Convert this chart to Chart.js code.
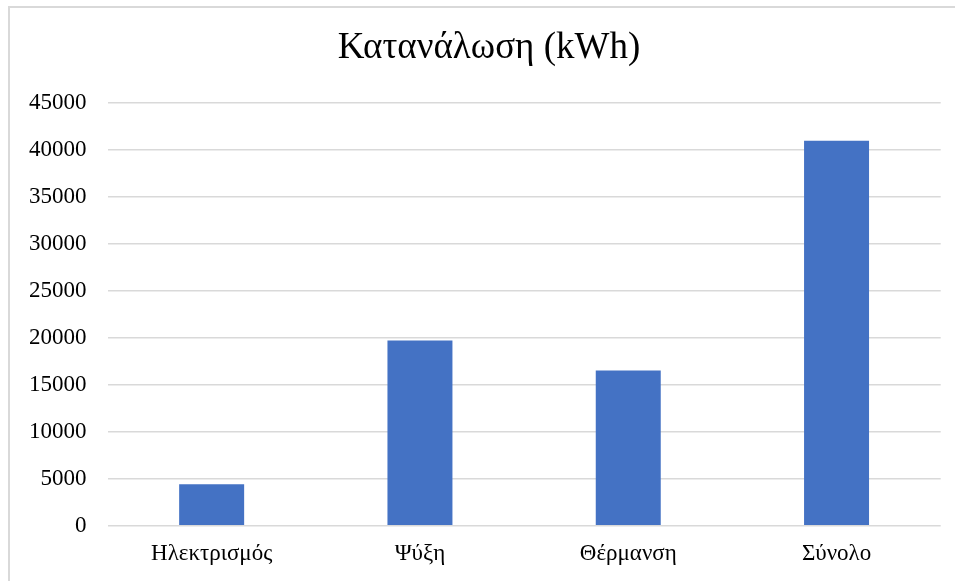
<!DOCTYPE html>
<html>
<head>
<meta charset="utf-8">
<script src="https://cdn.jsdelivr.net/npm/chart.js@4/dist/chart.umd.min.js"></script>
<style>
  html, body { margin: 0; padding: 0; background: #fff; }
  #wrap { position: relative; width: 955px; height: 581px; }
  #frame { position: absolute; left: 8px; top: 6px; width: 960px; height: 600px;
           border-left: 2px solid #d9d9d9; border-top: 2px solid #d9d9d9; box-sizing: border-box; }
  #chart { position: absolute; left: 0; top: 0; }
</style>
</head>
<body>
<div id="wrap">
  <div id="frame"></div>
  <canvas id="chart" width="955" height="581"></canvas>
</div>
<script>
const categories = ["Ηλεκτρισμός", "Ψύξη", "Θέρμανση", "Σύνολο"];
const consumption = [4400, 19700, 16500, 40950];
const yMax = 45000;
const yStep = 5000;

// title in the reference is centred on the frame, not the canvas
const shiftTitle = {
  id: 'shiftTitle',
  afterLayout(chart) {
    if (chart.titleBlock) chart.titleBlock.left = 37.3;
  }
};

function createChart() {
  const ctx = document.getElementById('chart').getContext('2d');
  const chart = new Chart(ctx, {
    type: 'bar',
    data: {
      labels: categories,
      datasets: [{
        label: "Κατανάλωση (kWh)",
        backgroundColor: '#4472c4',
        data: consumption,
        categoryPercentage: 1,
        barPercentage: 0.312
      }]
    },
    options: {
      responsive: false,
      animation: false,
      layout: { padding: { left: 0, right: 14.3, top: 0, bottom: 0 } },
      plugins: {
        legend: { display: false },
        tooltip: { enabled: false },
        title: {
          display: true,
          text: "Κατανάλωση (kWh)",
          color: '#000',
          font: { family: "'Liberation Serif', 'Times New Roman', serif", size: 37, weight: 'normal' },
          padding: { top: 26, bottom: 32.3 }
        }
      },
      scales: {
        x: {
          grid: { display: false, drawTicks: false },
          border: { display: false },
          ticks: {
            color: '#000',
            padding: 14.5,
            font: { family: "'Liberation Serif', 'Times New Roman', serif", size: 23 }
          },
          afterFit: function(scale) { scale.height = 55.3; }
        },
        y: {
          min: 0,
          max: yMax,
          grid: { color: '#d9d9d9', lineWidth: 1.5, drawTicks: false },
          border: { display: false },
          ticks: {
            stepSize: yStep,
            color: '#000',
            padding: 21,
            font: { family: "'Liberation Serif', 'Times New Roman', serif", size: 23 },
            callback: function(v) { return String(v); }
          },
          afterFit: function(scale) { scale.width = 107.5; }
        }
      }
    },
    plugins: [shiftTitle]
  });
}

document.addEventListener('DOMContentLoaded', createChart);
</script>
</body>
</html>
